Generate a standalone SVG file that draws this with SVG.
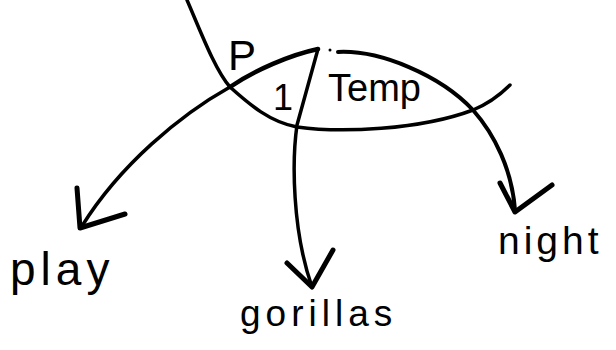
<svg xmlns="http://www.w3.org/2000/svg" width="616" height="350" viewBox="0 0 616 350">
<style>
.ln{fill:none;stroke:#000;stroke-width:3.5;stroke-linecap:round;stroke-linejoin:round}
.ah{fill:none;stroke:#000;stroke-width:5;stroke-linecap:round;stroke-linejoin:round}
.t{font-family:"Liberation Sans",Arial,sans-serif;fill:#000}
</style>
<rect width="616" height="350" fill="#fff"/>
<g id="connectors">
<path class="ln" d="M187,0 C200,30 215,70 230,87 C250,105 270,122 297,127 C340,133 420,130 473,110 C490,103 500,95 510,85"/>
<path class="ln" style="stroke-width:4.5" d="M318,49 C290,55 255,70 230,87"/>
<path class="ln" d="M230,87 C180,115 120,165 82,226"/>
<path class="ln" d="M318,49 L297,125 C292,160 292,230 312,287"/>
<path class="ln" style="stroke-width:4" d="M338,52 C380,50 440,75 473,110 C495,135 512,170 515,210"/>
<circle cx="330" cy="50" r="1.5" fill="#000"/>
<polyline class="ah" points="77,188 80,228 125,214"/>
<polyline class="ah" points="287,263 312,287 333,250"/>
<polyline class="ah" points="500,183 515,212 552,185"/>
</g>
<g id="node-P"><text class="t" x="228" y="70" font-size="42">P</text></g>
<g id="node-1"><text class="t" x="273" y="110" font-size="36">1</text></g>
<g id="node-Temp"><text class="t" x="328" y="101" font-size="38">Temp</text></g>
<g id="node-play"><text class="t" x="10" y="285" font-size="46" letter-spacing="5">play</text></g>
<g id="node-gorillas"><text class="t" x="240" y="326" font-size="37" letter-spacing="5">gorillas</text></g>
<g id="node-night"><text class="t" x="498" y="254" font-size="39" letter-spacing="4">night</text></g>
</svg>
